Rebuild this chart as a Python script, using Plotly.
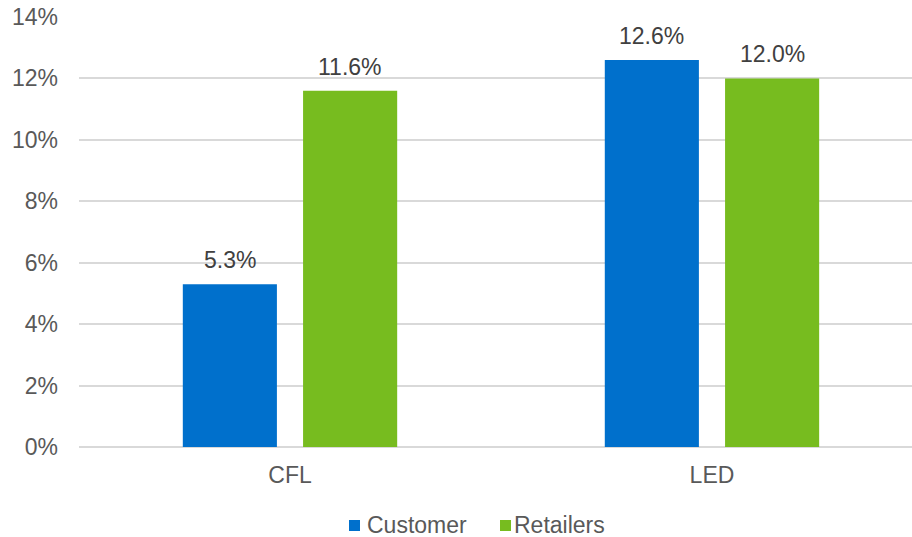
import plotly.graph_objects as go

categories = ["CFL", "LED"]
series_names = ["Customer", "Retailers"]
customer = [5.3, 12.6]
retailers = [11.6, 12.0]
tick_vals = [0, 2, 4, 6, 8, 10, 12, 14]
tick_text = ["0%", "2%", "4%", "6%", "8%", "10%", "12%", "14%"]

colors = ["#0070CC", "#77BC1F"]
font_family = "Liberation Sans, Arial, sans-serif"

W, H = 912, 537
M_L, M_R, M_T, M_B = 79, 0, 17, 90

# bar geometry in category units
BAR_W = 0.223
INNER_GAP = 0.062
offsets = [-(BAR_W + INNER_GAP / 2), INNER_GAP / 2]


def px_to_paper(px, py):
    """Convert figure pixel coordinates to paper coordinates."""
    pw, ph = W - M_L - M_R, H - M_T - M_B
    return (px - M_L) / pw, (H - M_B - py) / ph


fig = go.Figure()
for name, vals, col, off in zip(series_names, [customer, retailers], colors, offsets):
    fig.add_trace(go.Bar(
        name=name, x=categories, y=vals, width=BAR_W, offset=off,
        marker=dict(color=col, line=dict(width=0)), showlegend=False,
    ))
    # value labels above each bar
    for ci, v in enumerate(vals):
        fig.add_annotation(
            x=ci + off + BAR_W / 2, y=v, xref="x", yref="y", text=f"{v:.1f}%",
            showarrow=False, yanchor="bottom", yshift=9,
            font=dict(size=23, color="#404040", family=font_family),
        )

# legend row below the axis: colour swatch + series name
legend_x = [349, 500]
label_gap = [16, 12]
for name, col, lx, gap in zip(series_names, colors, legend_x, label_gap):
    x0, y0 = px_to_paper(lx, 531)
    x1, y1 = px_to_paper(lx + 11, 520)
    fig.add_shape(type="rect", xref="paper", yref="paper", x0=x0, y0=y0, x1=x1, y1=y1,
                  fillcolor=col, line=dict(width=0))
    tx, ty = px_to_paper(lx + gap, 525)
    fig.add_annotation(
        x=tx, y=ty, xref="paper", yref="paper", text=name, showarrow=False,
        xanchor="left", yanchor="middle",
        font=dict(size=23, color="#595959", family=font_family),
    )

fig.update_layout(
    width=W, height=H,
    margin=dict(l=M_L, r=M_R, t=M_T, b=M_B, autoexpand=False),
    paper_bgcolor="white", plot_bgcolor="white",
    barmode="overlay", showlegend=False,
    font=dict(family=font_family, size=23, color="#595959"),
)
fig.update_xaxes(
    type="category", range=[-0.5, 1.474], showgrid=False, zeroline=False,
    showline=False, ticks="", ticklabelstandoff=12,
    tickfont=dict(size=23, color="#595959"),
)
fig.update_yaxes(
    range=[0, 14], tickvals=tick_vals, ticktext=tick_text,
    showgrid=True, gridcolor="#D9D9D9", gridwidth=1.5,
    zeroline=True, zerolinecolor="#D9D9D9", zerolinewidth=1.5,
    showline=False, ticks="", ticklabelstandoff=20,
    tickfont=dict(size=23, color="#595959"),
)

fig.write_html("out.html")
